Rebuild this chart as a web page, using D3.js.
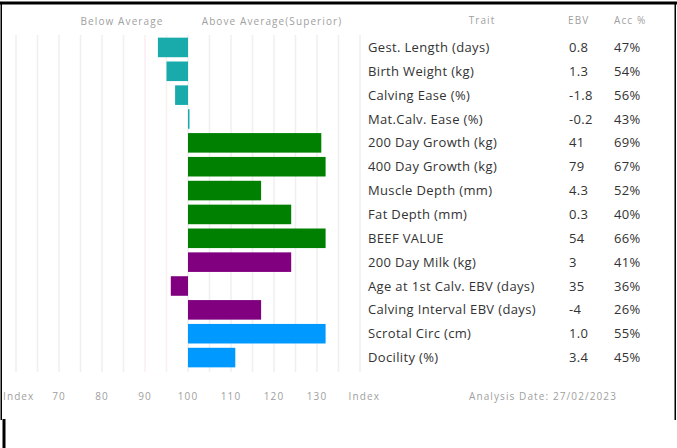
<!DOCTYPE html>
<html>
<head>
<meta charset="utf-8">
<script src="https://cdn.jsdelivr.net/npm/d3@7"></script>
<style>
html,body{margin:0;padding:0;background:#fff;}
svg{display:block;}
</style>
</head>
<body>
<script>
const traits = ["Gest. Length (days)","Birth Weight (kg)","Calving Ease (%)","Mat.Calv. Ease (%)","200 Day Growth (kg)","400 Day Growth (kg)","Muscle Depth (mm)","Fat Depth (mm)","BEEF VALUE","200 Day Milk (kg)","Age at 1st Calv. EBV (days)","Calving Interval EBV (days)","Scrotal Circ (cm)","Docility (%)"];
const ebv = ["0.8","1.3","-1.8","-0.2","41","79","4.3","0.3","54","3","35","-4","1.0","3.4"];
const acc = ["47%","54%","56%","43%","69%","67%","52%","40%","66%","41%","36%","26%","55%","45%"];
const indexValues = [93,95,97,100.3,131,132,117,124,132,124,96,117,132,111];
const groups = ["calving","calving","calving","calving","growth","growth","growth","growth","growth","maternal","maternal","maternal","other","other"];
const groupNames = ["calving","growth","maternal","other"];
const groupColors = ["#19aaab","#008000","#800080","#0099ff"];
const tickValues = [70,80,90,100,110,120,130];
const headers = {below:"Below Average", above:"Above Average(Superior)", trait:"Trait", ebv:"EBV", acc:"Acc %"};
const analysisDate = "Analysis Date: 27/02/2023";

const W = 677, H = 448;
const font = "'Open Sans', 'Noto Sans', sans-serif";
const svg = d3.select("body").append("svg").attr("width", W).attr("height", H);

const x = d3.scaleLinear().domain([60,140]).range([16,360]);
const y = d3.scaleBand().domain(traits).range([35.5,369.5]).paddingInner(0.18).paddingOuter(0.09);
const color = d3.scaleOrdinal().domain(groupNames).range(groupColors);

// frame
svg.append("rect").attr("x",0).attr("y",1.5).attr("width",W).attr("height",3).attr("fill","#000");
svg.append("rect").attr("x",0.5).attr("y",2).attr("width",1.5).attr("height",418).attr("fill","#000");
svg.append("rect").attr("x",674.5).attr("y",2).attr("width",1.5).attr("height",418).attr("fill","#000");
svg.append("rect").attr("x",2.5).attr("y",419).attr("width",3).attr("height",29).attr("fill","#000");

// gridlines
svg.append("g").selectAll("line").data(d3.range(60,141,5)).join("line")
  .attr("x1", d=>x(d)).attr("x2", d=>x(d))
  .attr("y1", 35).attr("y2", 372)
  .attr("stroke", d => (d===95||d===90) ? "#fbeef0" : "#efefef").attr("stroke-width", 1.5);

// bars
const rows = traits.map((t,i)=>({t, v:indexValues[i], g:groups[i], e:ebv[i], a:acc[i]}));
svg.append("g").selectAll("rect").data(rows).join("rect")
  .attr("x", d => x(Math.min(d.v,100)))
  .attr("width", d => Math.max(1.5, Math.abs(x(d.v)-x(100))))
  .attr("y", d => y(d.t))
  .attr("height", y.bandwidth())
  .attr("fill", d => color(d.g));

// headers
const hdr = svg.append("g").attr("font-family", font).attr("fill","#a0a0a0").attr("font-size", 10).attr("letter-spacing", 1.1);
hdr.append("text").attr("x",122).attr("y",25).attr("text-anchor","middle").text(headers.below);
hdr.append("text").attr("x",272).attr("y",25).attr("text-anchor","middle").text(headers.above);
hdr.append("text").attr("x",482).attr("y",24).attr("text-anchor","middle").text(headers.trait);
hdr.append("text").attr("x",568).attr("y",24).text(headers.ebv);
hdr.append("text").attr("x",614).attr("y",24).text(headers.acc);

// table text
const tbl = svg.append("g").attr("font-family", font).attr("fill","#333").attr("font-size", 13).attr("letter-spacing", 0.35);
tbl.selectAll("text.tr").data(rows).join("text").attr("class","tr")
  .attr("x",368).attr("y", d=>y(d.t)+y.bandwidth()/2).attr("dy","0.35em").text(d=>d.t);
tbl.selectAll("text.eb").data(rows).join("text").attr("class","eb")
  .attr("x",569).attr("y", d=>y(d.t)+y.bandwidth()/2).attr("dy","0.35em").text(d=>d.e);
tbl.selectAll("text.ac").data(rows).join("text").attr("class","ac")
  .attr("x",614).attr("y", d=>y(d.t)+y.bandwidth()/2).attr("dy","0.35em").text(d=>d.a);

// bottom axis labels
const ax = svg.append("g").attr("font-family", font).attr("fill","#a0a0a0").attr("font-size", 10).attr("letter-spacing", 1.1);
ax.selectAll("text.tk").data(tickValues).join("text").attr("class","tk")
  .attr("x", d=>x(d)).attr("y",400).attr("text-anchor","middle").text(d=>d);
ax.append("text").attr("x",3).attr("y",400).text("Index");
ax.append("text").attr("x",x(141)).attr("y",400).attr("text-anchor","middle").text("Index");
ax.append("text").attr("x",543).attr("y",400).attr("text-anchor","middle").text(analysisDate);
</script>
</body>
</html>
